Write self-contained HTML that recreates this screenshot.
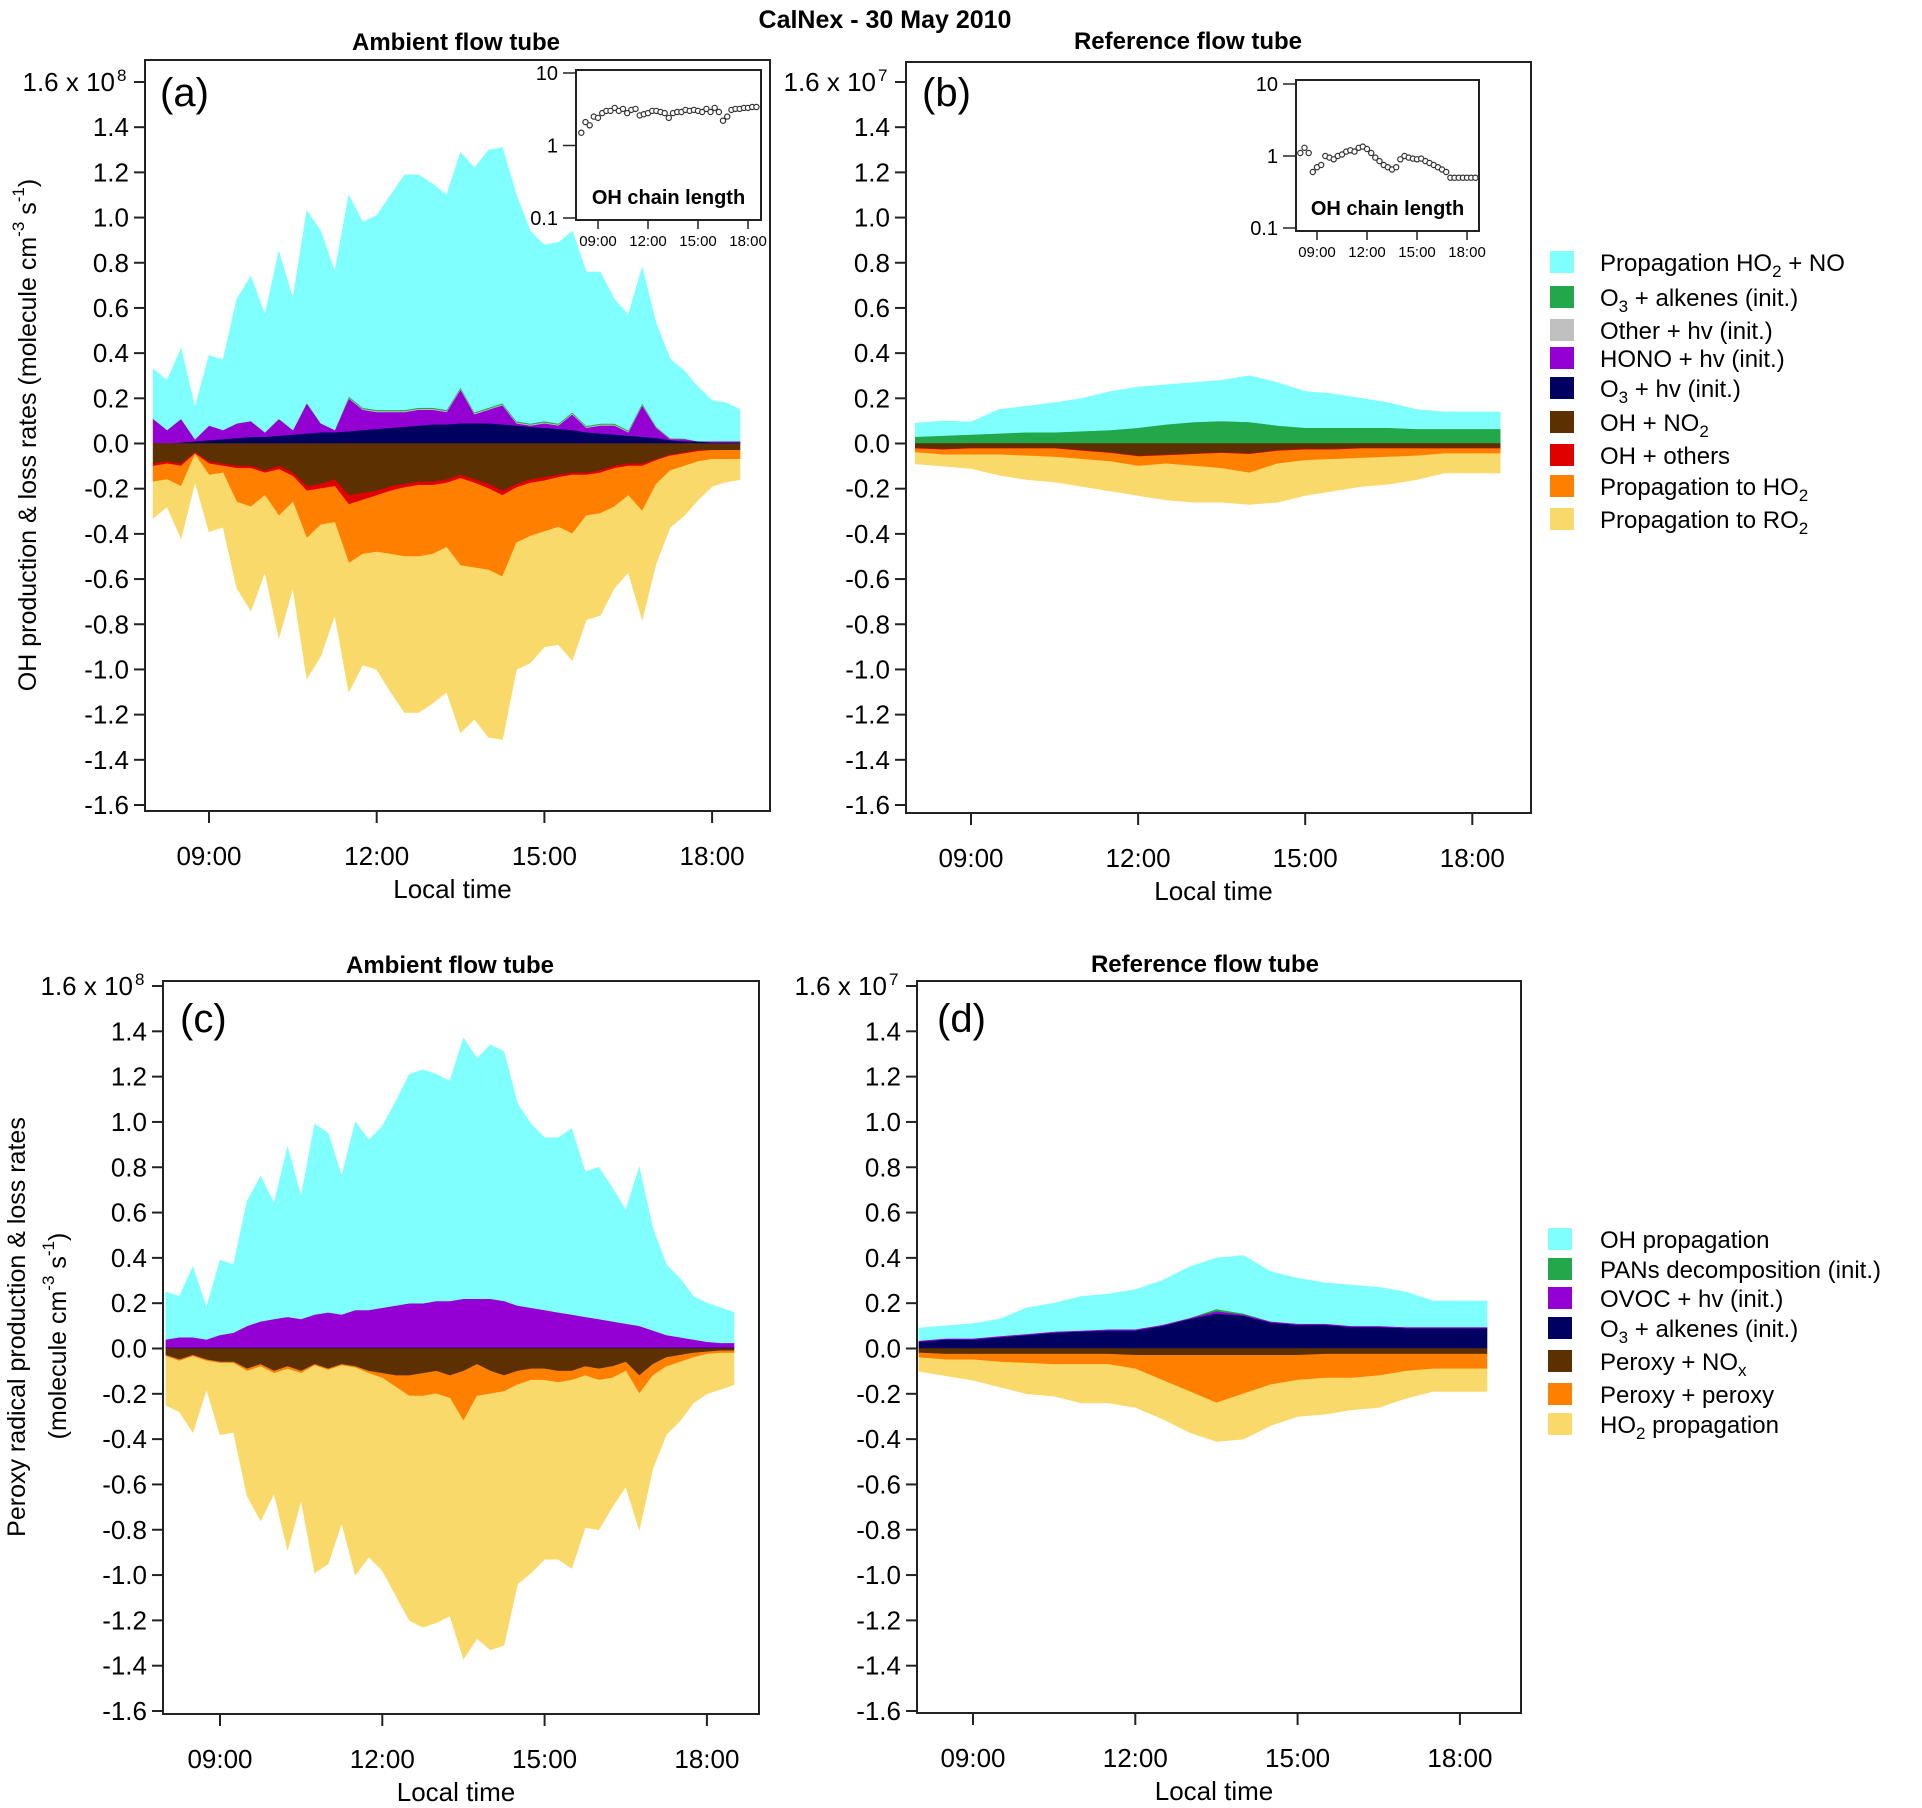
<!DOCTYPE html>
<html><head><meta charset="utf-8"><title>CalNex - 30 May 2010</title>
<style>
html,body{margin:0;padding:0;background:#fff;}
svg{display:block;font-family:"Liberation Sans",Arial,sans-serif;}
</style></head>
<body>
<svg id="fig" width="1922" height="1808" viewBox="0 0 1922 1808" xmlns="http://www.w3.org/2000/svg">
<rect width="1922" height="1808" fill="#fff"/>
<text x="885" y="28" text-anchor="middle" font-size="25" font-weight="bold">CalNex - 30 May 2010</text>
<text x="456" y="50" text-anchor="middle" font-size="24" font-weight="bold">Ambient flow tube</text>
<text x="1188" y="49" text-anchor="middle" font-size="24" font-weight="bold">Reference flow tube</text>
<text x="450" y="973" text-anchor="middle" font-size="24" font-weight="bold">Ambient flow tube</text>
<text x="1205" y="972" text-anchor="middle" font-size="24" font-weight="bold">Reference flow tube</text>
<text transform="translate(36,435) rotate(-90)" text-anchor="middle" font-size="25">OH production &amp; loss rates (molecule cm<tspan dy="-12" font-size="17">-3</tspan><tspan dy="12"> s</tspan><tspan dy="-12" font-size="17">-1</tspan><tspan dy="12">)</tspan></text>
<text transform="translate(25,1327) rotate(-90)" text-anchor="middle" font-size="25">Peroxy radical production &amp; loss rates</text>
<text transform="translate(66,1336) rotate(-90)" text-anchor="middle" font-size="25">(molecule cm<tspan dy="-12" font-size="17">-3</tspan><tspan dy="12"> s</tspan><tspan dy="-12" font-size="17">-1</tspan><tspan dy="12">)</tspan></text>
<g id="plots"></g>
<g font-size="24">
<rect x="1550" y="251" width="24" height="22" fill="#80ffff"/><text x="1600" y="271">Propagation HO<tspan dy="6" font-size="17">2</tspan><tspan dy="-6"> + NO</tspan></text>
<rect x="1550" y="286" width="24" height="22" fill="#22a84a"/><text x="1600" y="306">O<tspan dy="6" font-size="17">3</tspan><tspan dy="-6"> + alkenes (init.)</tspan></text>
<rect x="1550" y="319" width="24" height="22" fill="#c0c0c0"/><text x="1600" y="339">Other + hv (init.)</text>
<rect x="1550" y="347" width="24" height="22" fill="#9400d3"/><text x="1600" y="367">HONO + hv (init.)</text>
<rect x="1550" y="377" width="24" height="22" fill="#000060"/><text x="1600" y="397">O<tspan dy="6" font-size="17">3</tspan><tspan dy="-6"> + hv (init.)</tspan></text>
<rect x="1550" y="411" width="24" height="22" fill="#5c3000"/><text x="1600" y="431">OH + NO<tspan dy="6" font-size="17">2</tspan></text>
<rect x="1550" y="444" width="24" height="22" fill="#e00000"/><text x="1600" y="464">OH + others</text>
<rect x="1550" y="475" width="24" height="22" fill="#ff8000"/><text x="1600" y="495">Propagation to HO<tspan dy="6" font-size="17">2</tspan></text>
<rect x="1550" y="508" width="24" height="22" fill="#f9d96a"/><text x="1600" y="528">Propagation to RO<tspan dy="6" font-size="17">2</tspan></text>
</g>
<g font-size="24">
<rect x="1548" y="1228" width="24" height="22" fill="#80ffff"/><text x="1600" y="1248">OH propagation</text>
<rect x="1548" y="1258" width="24" height="22" fill="#22a84a"/><text x="1600" y="1278">PANs decomposition (init.)</text>
<rect x="1548" y="1287" width="24" height="22" fill="#9400d3"/><text x="1600" y="1307">OVOC + hv (init.)</text>
<rect x="1548" y="1317" width="24" height="22" fill="#000060"/><text x="1600" y="1337">O<tspan dy="6" font-size="17">3</tspan><tspan dy="-6"> + alkenes (init.)</tspan></text>
<rect x="1548" y="1350" width="24" height="22" fill="#5c3000"/><text x="1600" y="1370">Peroxy + NO<tspan dy="6" font-size="17">x</tspan></text>
<rect x="1548" y="1383" width="24" height="22" fill="#ff8000"/><text x="1600" y="1403">Peroxy + peroxy</text>
<rect x="1548" y="1413" width="24" height="22" fill="#f9d96a"/><text x="1600" y="1433">HO<tspan dy="6" font-size="17">2</tspan><tspan dy="-6"> propagation</tspan></text>
</g>
</svg>
<script>
// ---------- data (units of 1e8 for a/c, 1e7 for b/d) ----------
const timesFine = [8,8.25,8.5,8.75,9,9.25,9.5,9.75,10,10.25,10.5,10.75,11,11.25,11.5,11.75,12,12.25,12.5,12.75,13,13.25,13.5,13.75,14,14.25,14.5,14.75,15,15.25,15.5,15.75,16,16.25,16.5,16.75,17,17.25,17.5,17.75,18,18.25,18.5];
const timesCoarse = [8,8.5,9,9.5,10,10.5,11,11.5,12,12.5,13,13.5,14,14.5,15,15.5,16,16.5,17,17.5,18,18.5];
const yTickValues = [1.6,1.4,1.2,1.0,0.8,0.6,0.4,0.2,0.0,-0.2,-0.4,-0.6,-0.8,-1.0,-1.2,-1.4,-1.6];
const xTickHours = [9,12,15,18];
const xTickLabels = ["09:00","12:00","15:00","18:00"];

// panel a
const aO3hv = [0,0,.005,.01,.015,.02,.025,.03,.03,.035,.04,.045,.05,.05,.055,.06,.065,.07,.075,.08,.085,.085,.09,.09,.09,.085,.08,.075,.07,.065,.06,.05,.045,.04,.035,.03,.025,.015,.01,.01,.005,.005,.005];
const aHONO = [.11,.06,.105,.01,.065,.04,.065,.07,.02,.075,.02,.135,.04,.01,.145,.09,.075,.07,.065,.07,.065,.055,.15,.04,.06,.085,.01,.005,.02,.015,.07,.02,.035,.04,.015,.14,.045,.005,.01,0,.005,.005,.005];
const aOther = [0,0,0,0,0,0,0,0,0,0,0,0,0,0,.004,.004,.004,.004,.004,.004,.004,.004,.004,.004,.004,.004,.004,.004,.004,.004,.004,.004,.004,.004,.004,.004,.003,.002,.001,0,0,0,0];
const aO3alk = [0,0,0,0,0,0,0,0,0,0,0,0,0,0,.005,.005,.005,.005,.005,.005,.005,.005,.005,.005,.005,.005,.005,.005,.005,.005,.005,.005,.005,.005,.005,.005,.003,.002,.001,0,0,0,0];
const aHO2NO = [.22,.22,.31,.14,.31,.31,.55,.64,.52,.74,.58,.85,.85,.70,.89,.82,.86,.95,1.04,1.03,.99,.95,1.04,1.08,1.14,1.13,1.0,.85,.78,.80,.80,.68,.67,.55,.51,.60,.455,.35,.30,.24,.18,.17,.14];
const aOHNO2 = [.09,.08,.09,.04,.08,.09,.10,.10,.12,.10,.13,.19,.18,.16,.23,.22,.21,.19,.18,.17,.17,.16,.14,.16,.18,.21,.18,.16,.15,.14,.13,.13,.12,.10,.09,.09,.07,.05,.04,.03,.03,.03,.03];
const aOHothers = [.01,.01,.01,.005,.01,.01,.01,.01,.01,.015,.015,.02,.02,.03,.04,.03,.02,.02,.015,.015,.015,.015,.015,.015,.02,.02,.015,.015,.015,.01,.01,.01,.01,.01,.01,.01,.005,.005,.005,.005,0,0,0];
const aToHO2 = [.07,.07,.09,.005,.05,.03,.15,.17,.10,.205,.115,.21,.16,.16,.26,.24,.25,.28,.305,.315,.305,.285,.385,.375,.36,.36,.245,.235,.225,.22,.26,.18,.18,.17,.13,.20,.105,.065,.055,.045,.04,.04,.04];
const aToRO2 = [.16,.12,.23,.12,.25,.24,.38,.46,.34,.54,.38,.62,.58,.41,.57,.49,.52,.61,.69,.69,.66,.64,.74,.67,.74,.72,.56,.56,.51,.52,.56,.46,.45,.36,.34,.48,.35,.25,.22,.17,.12,.10,.09];

// panel b
const bO3alk = [.03,.035,.04,.045,.05,.05,.055,.06,.07,.085,.095,.10,.095,.08,.07,.07,.07,.07,.065,.065,.065,.065];
const bHO2NO = [.06,.065,.055,.105,.115,.13,.145,.17,.18,.175,.175,.18,.205,.19,.16,.15,.13,.11,.085,.075,.075,.075];
const bOHNO2 = [.02,.025,.02,.02,.02,.02,.03,.04,.055,.05,.045,.04,.045,.03,.025,.025,.02,.02,.02,.02,.02,.02];
const bOHothers = [.003,.003,.003,.003,.003,.003,.003,.003,.003,.003,.003,.003,.003,.003,.003,.003,.003,.003,.003,.003,.003,.003];
const bToHO2 = [.017,.022,.027,.027,.032,.037,.037,.037,.042,.037,.052,.067,.082,.057,.047,.042,.042,.037,.032,.022,.022,.022];
const bToRO2 = [.05,.05,.06,.09,.105,.11,.12,.13,.13,.16,.16,.15,.14,.17,.155,.14,.125,.12,.105,.085,.085,.085];

// panel c
const cO3alk = [.005,.005,.005,.005,.005,.005,.005,.005,.005,.005,.005,.005,.005,.005,.005,.005,.005,.005,.005,.005,.005,.005,.005,.005,.005,.005,.005,.005,.005,.005,.005,.005,.005,.005,.005,.005,.005,.005,.005,.005,.005,.005,.005];
const cOVOC = [.035,.045,.045,.035,.055,.065,.095,.115,.125,.135,.125,.145,.155,.145,.165,.165,.175,.185,.195,.195,.205,.205,.215,.215,.215,.205,.185,.175,.165,.155,.145,.135,.125,.115,.105,.095,.075,.055,.045,.035,.025,.02,.02];
const cOHprop = [.21,.18,.31,.14,.33,.30,.55,.64,.51,.75,.54,.84,.79,.61,.83,.75,.80,.90,1.01,1.03,1.0,.97,1.15,1.06,1.12,1.10,.89,.81,.76,.77,.82,.64,.67,.59,.50,.70,.45,.31,.26,.19,.17,.155,.135];
const cPeroxyNOx = [.03,.05,.03,.05,.06,.06,.09,.07,.10,.08,.10,.07,.09,.07,.08,.10,.11,.12,.12,.11,.10,.12,.10,.07,.10,.12,.10,.09,.09,.10,.10,.08,.09,.08,.06,.12,.07,.04,.03,.02,.015,.01,.01];
const cPeroxyPeroxy = [.005,.005,.005,.005,.005,.005,.01,.01,.01,.01,.01,.005,.005,.005,.005,.01,.02,.05,.09,.10,.10,.10,.22,.14,.10,.07,.06,.05,.05,.05,.04,.04,.05,.05,.04,.08,.05,.04,.03,.02,.01,.01,.01];
const cHO2prop = [.215,.225,.335,.125,.315,.305,.55,.68,.53,.80,.56,.915,.855,.695,.915,.81,.85,.92,.99,1.02,1.01,.96,1.05,1.07,1.13,1.12,.88,.85,.79,.78,.83,.67,.66,.57,.51,.60,.41,.30,.26,.20,.175,.16,.14];

// panel d
const dO3alk = [.03,.04,.04,.05,.06,.07,.075,.08,.08,.10,.13,.155,.145,.115,.105,.105,.095,.095,.09,.09,.09,.09];
const dOVOC = [.005,.005,.005,.005,.005,.005,.005,.005,.005,.005,.005,.01,.005,.005,.005,.005,.005,.005,.005,.005,.005,.005];
const dPANs = [0,0,0,0,0,0,0,0,0,0,0,.01,.005,0,0,0,0,0,0,0,0,0];
const dOHprop = [.055,.055,.065,.075,.115,.125,.15,.155,.175,.195,.225,.225,.255,.22,.20,.18,.18,.17,.155,.115,.115,.115];
const dPeroxyNOx = [.02,.025,.025,.025,.025,.025,.025,.025,.03,.03,.03,.03,.03,.03,.03,.025,.025,.025,.025,.025,.025,.025];
const dPeroxyPeroxy = [.02,.025,.025,.035,.04,.045,.045,.045,.06,.11,.16,.21,.17,.13,.11,.105,.105,.095,.075,.065,.065,.065];
const dHO2prop = [.06,.07,.09,.11,.135,.14,.17,.17,.17,.17,.18,.17,.20,.18,.16,.16,.14,.14,.12,.10,.10,.10];

// insets: OH chain length
const chainA = [1.5,2.1,1.9,2.5,2.4,2.8,3.0,3.0,3.3,3.0,3.2,2.8,3.1,3.2,2.6,2.7,2.8,3.0,3.0,2.9,2.8,2.4,2.8,2.9,2.9,3.1,3.0,3.1,3.0,2.9,3.2,2.9,3.3,2.9,2.2,2.5,3.1,3.2,3.2,3.3,3.3,3.4,3.4];
const chainB = [1.1,1.3,1.1,0.6,0.7,0.75,1.0,0.95,0.9,1.0,1.05,1.15,1.2,1.15,1.3,1.35,1.25,1.1,0.95,0.85,0.75,0.7,0.65,0.7,0.9,1.0,0.95,0.92,0.9,0.92,0.85,0.8,0.75,0.7,0.65,0.6,0.5,0.5,0.5,0.5,0.5,0.5,0.5];
const insetTickValues = [10,1,0.1];
const insetTickLabels = ["10","1","0.1"];

// ---------- drawing ----------
const NS = "http://www.w3.org/2000/svg";
const root = document.getElementById('plots');
function mk(tag, attrs, parent){ const e=document.createElementNS(NS,tag); for(const k in attrs) e.setAttribute(k,attrs[k]); (parent||root).appendChild(e); return e; }

const C = {cyan:"#80ffff", green:"#22a84a", grey:"#c0c0c0", purple:"#9400d3", navy:"#000060", brown:"#5c3000", red:"#e00000", orange:"#ff8000", yellow:"#f9d96a"};

const panels = [
 {id:'a', box:[145,60,770,811], y0:443.5, yTop:82, yBot:805, x9:209, perH:55.9, times:timesFine, exp:'8', lbl:[160,106],
  pos:[[aO3hv,C.navy,'o3-hv'],[aHONO,C.purple,'hono-hv'],[aOther,C.grey,'other-hv'],[aO3alk,C.green,'o3-alkenes'],[aHO2NO,C.cyan,'propagation-ho2-no']],
  neg:[[aOHNO2,C.brown,'oh-no2'],[aOHothers,C.red,'oh-others'],[aToHO2,C.orange,'propagation-to-ho2'],[aToRO2,C.yellow,'propagation-to-ro2']]},
 {id:'b', box:[906,62,1531,813], y0:443.5, yTop:82, yBot:805, x9:971, perH:55.7, times:timesCoarse, exp:'7', lbl:[922,106],
  pos:[[bO3alk,C.green,'o3-alkenes'],[bHO2NO,C.cyan,'propagation-ho2-no']],
  neg:[[bOHNO2,C.brown,'oh-no2'],[bOHothers,C.red,'oh-others'],[bToHO2,C.orange,'propagation-to-ho2'],[bToRO2,C.yellow,'propagation-to-ro2']]},
 {id:'c', box:[163,981,759,1714], y0:1348.5, yTop:986, yBot:1711, x9:220, perH:54.1, times:timesFine, exp:'8', lbl:[180,1032],
  pos:[[cO3alk,C.navy,'o3-alkenes'],[cOVOC,C.purple,'ovoc-hv'],[cOHprop,C.cyan,'oh-propagation']],
  neg:[[cPeroxyNOx,C.brown,'peroxy-nox'],[cPeroxyPeroxy,C.orange,'peroxy-peroxy'],[cHO2prop,C.yellow,'ho2-propagation']]},
 {id:'d', box:[917,981,1521,1713], y0:1348.5, yTop:986, yBot:1711, x9:973, perH:54.1, times:timesCoarse, exp:'7', lbl:[937,1032],
  pos:[[dO3alk,C.navy,'o3-alkenes'],[dOVOC,C.purple,'ovoc-hv'],[dPANs,C.green,'pans-decomposition'],[dOHprop,C.cyan,'oh-propagation']],
  neg:[[dPeroxyNOx,C.brown,'peroxy-nox'],[dPeroxyPeroxy,C.orange,'peroxy-peroxy'],[dHO2prop,C.yellow,'ho2-propagation']]}
];

panels.forEach(p=>{
  const g = mk('g',{});
  
  
  const unit = (p.yBot-p.yTop)/3.2;
  const yS = v => p.y0 - v*unit;
  const xS = h => p.x9 + (h-9)*p.perH;
  function stack(layers, sign){
    let cum = p.times.map(()=>0);
    layers.forEach(([vals,col,name])=>{
      const next = cum.map((c,i)=>c+vals[i]);
      let d = '';
      p.times.forEach((t,i)=>{ d += (i?'L':'M')+xS(t).toFixed(1)+','+yS(sign*next[i]).toFixed(1); });
      for(let i=p.times.length-1;i>=0;i--) d += 'L'+xS(p.times[i]).toFixed(1)+','+yS(sign*cum[i]).toFixed(1);
      const path = mk('path',{d:d+'Z', fill:col, stroke:col, 'stroke-width':0.6}, g);
      
      
      cum = next;
    });
  }
  stack(p.pos, 1);
  stack(p.neg, -1);
  const [x1,y1,x2,y2] = p.box;
  const frame = mk('rect',{x:x1,y:y1,width:x2-x1,height:y2-y1,fill:'none',stroke:'#222','stroke-width':2}, g);
  
  
  // y ticks
  yTickValues.forEach(v=>{
    const y = yS(v);
    const tk = mk('line',{x1:x1-11,x2:x1,y1:y,y2:y,stroke:'#222','stroke-width':2}, g);
    
    
    const t = mk('text',{x:x1-16,y:y+9,'text-anchor':'end','font-size':26}, g);
    
    
    if(v===1.6){
      t.setAttribute('x', x1-30);
      t.textContent = '1.6 x 10';
      const s = mk('text',{x:x1-28,y:y-1,'font-size':17}, g);
      
      
      s.textContent = p.exp;
    } else {
      t.textContent = (v<0?'-':'') + Math.abs(v).toFixed(1);
    }
  });
  // x ticks
  xTickHours.forEach((h,i)=>{
    const x = xS(h);
    const tk = mk('line',{x1:x,x2:x,y1:y2,y2:y2+12,stroke:'#222','stroke-width':2}, g);
    
    
    const t = mk('text',{x:x,y:y2+54,'text-anchor':'middle','font-size':26}, g);
    
    
    t.textContent = xTickLabels[i];
  });
  const xt = mk('text',{x:(x1+x2)/2-5,y:y2+87,'text-anchor':'middle','font-size':26}, g);
  
  
  xt.textContent = 'Local time';
  const pl = mk('text',{x:p.lbl[0],y:p.lbl[1],'font-size':40}, g);
  
  
  pl.textContent = '('+p.id+')';
});

// insets
const insets = [
  {id:'a', box:[576,70,761,220], y10:73, y01:218, x9:598, perH:16.67, data:chainA},
  {id:'b', box:[1296,80,1479,231], y10:84, y01:228, x9:1317, perH:16.67, data:chainB}
];
insets.forEach(ins=>{
  const g = mk('g',{});
  
  
  const [x1,y1,x2,y2] = ins.box;
  const bg = mk('rect',{x:x1,y:y1,width:x2-x1,height:y2-y1,fill:'#fff',stroke:'#222','stroke-width':2}, g);
  
  
  const yS = v => ins.y10 + (1-Math.log10(v))/2*(ins.y01-ins.y10);
  const xS = h => ins.x9 + (h-9)*ins.perH;
  insetTickValues.forEach((v,i)=>{
    const y=yS(v);
    const tk = mk('line',{x1:x1-13,x2:x1,y1:y,y2:y,stroke:'#222','stroke-width':1.5}, g);
    
    
    const t = mk('text',{x:x1-18,y:y+7,'text-anchor':'end','font-size':20}, g);
    
    
    t.textContent = insetTickLabels[i];
  });
  xTickHours.forEach((h,i)=>{
    const x=xS(h);
    const tk = mk('line',{x1:x,x2:x,y1:y2,y2:y2+9,stroke:'#222','stroke-width':1.5}, g);
    
    
    const t = mk('text',{x:x,y:y2+26,'text-anchor':'middle','font-size':15}, g);
    
    
    t.textContent = xTickLabels[i];
  });
  ins.data.forEach((v,i)=>{
    const c = mk('circle',{cx:xS(timesFine[i]).toFixed(1),cy:yS(v).toFixed(1),r:2.6,fill:'#fff',stroke:'#333','stroke-width':1.2}, g);
    
    
  });
  const lab = mk('text',{x:(x1+x2)/2,y:y2-16,'text-anchor':'middle','font-size':20,'font-weight':'bold'}, g);
  
  
  lab.textContent = 'OH chain length';
});
</script>
</body></html>
